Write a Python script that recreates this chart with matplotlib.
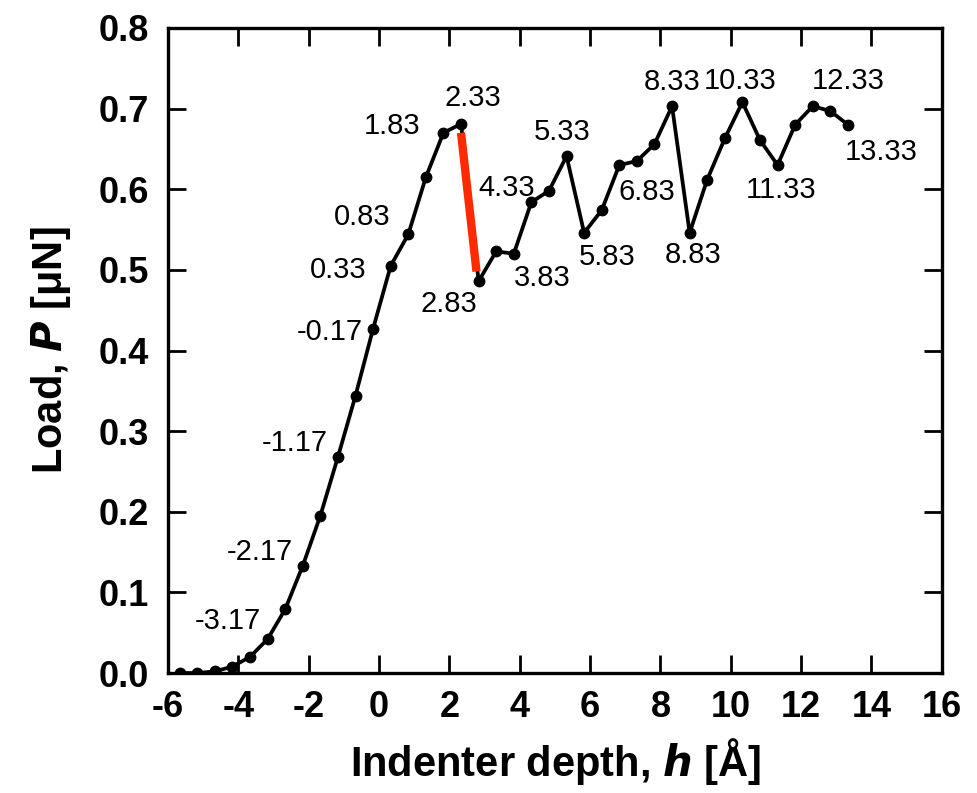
import matplotlib
matplotlib.use("Agg")
import matplotlib.pyplot as plt

# indenter depth h [Å] and load P [μN]
depth = [-5.67, -5.17, -4.67, -4.17, -3.67, -3.17, -2.67, -2.17, -1.67, -1.17,
         -0.67, -0.17, 0.33, 0.83, 1.33, 1.83, 2.33, 2.83, 3.33, 3.83,
         4.33, 4.83, 5.33, 5.83, 6.33, 6.83, 7.33, 7.83, 8.33, 8.83,
         9.33, 9.83, 10.33, 10.83, 11.33, 11.83, 12.33, 12.83, 13.33]
load = [0.000, 0.000, 0.002, 0.008, 0.020, 0.042, 0.079, 0.133, 0.195, 0.268,
        0.344, 0.427, 0.505, 0.544, 0.615, 0.670, 0.681, 0.486, 0.523, 0.520,
        0.584, 0.598, 0.641, 0.546, 0.574, 0.630, 0.635, 0.656, 0.703, 0.546,
        0.612, 0.663, 0.708, 0.661, 0.630, 0.680, 0.703, 0.697, 0.680]

# depths that carry a text label
labelled = [-3.17, -2.17, -1.17, -0.17, 0.33, 0.83, 1.83, 2.33, 2.83, 3.83,
            4.33, 5.33, 5.83, 6.83, 8.33, 8.83, 10.33, 11.33, 12.33, 13.33]

# red load-drop segment
drop_h = [2.33, 2.77]
drop_p = [0.670, 0.498]

xticks = list(range(-6, 17, 2))
yticks = [0.0, 0.1, 0.2, 0.3, 0.4, 0.5, 0.6, 0.7, 0.8]

# label offsets in pixels (dx, dy up)
offsets = {
    -3.17: (-40, 18), -2.17: (-43, 14), -1.17: (-43, 14), -0.17: (-43, -3),
    0.33: (-52, -4), 0.83: (-46, 17), 1.83: (-51, 7), 2.33: (12, 26),
    2.83: (-30, -23), 3.83: (28, -24), 4.33: (-25, 14), 5.33: (-4, 24),
    5.83: (23, -24), 6.83: (28, -27), 8.33: (0, 24), 8.83: (3, -22),
    10.33: (-2, 21), 11.33: (3, -25), 12.33: (35, 25), 13.33: (33, -27),
}

plt.rcParams["font.family"] = ["Liberation Sans", "DejaVu Sans"]

fig = plt.figure(figsize=(9.77, 7.93), dpi=100)
ax = fig.add_axes([0.172, 0.1513, 0.792, 0.8134])

ax.plot(depth, load, color="black", lw=2.7, marker="o", ms=7.5, zorder=3)
ax.plot(drop_h, drop_p, color="#ff2a00", lw=6, solid_capstyle="butt", zorder=4)

for h in labelled:
    p = load[depth.index(h)]
    dx, dy = offsets[h]
    ax.annotate(f"{h:.2f}", (h, p), xytext=(dx, dy), textcoords="offset pixels",
                ha="center", va="center", fontsize=21)

ax.set_xlim(-6, 16)
ax.set_ylim(0, 0.8)
ax.set_xticks(xticks)
ax.set_yticks(yticks)
ax.set_xticklabels([str(t) for t in xticks])
ax.set_yticklabels([f"{t:.1f}" for t in yticks])
ax.tick_params(direction="in", length=13, width=2, top=True, right=True,
               labelsize=26)
ax.tick_params(axis="x", pad=12)
ax.tick_params(axis="y", pad=14)
for lab in ax.get_xticklabels() + ax.get_yticklabels():
    lab.set_fontweight("bold")
for s in ax.spines.values():
    s.set_linewidth(2.4)

ax.set_xlabel(r"Indenter depth, $\boldsymbol{h}$ [Å]", fontsize=30,
              fontweight="bold", labelpad=8)
ax.set_ylabel(r"Load, $\boldsymbol{P}$ [μN]", fontsize=30,
              fontweight="bold", labelpad=18)

fig.savefig("out.png", dpi=100)
